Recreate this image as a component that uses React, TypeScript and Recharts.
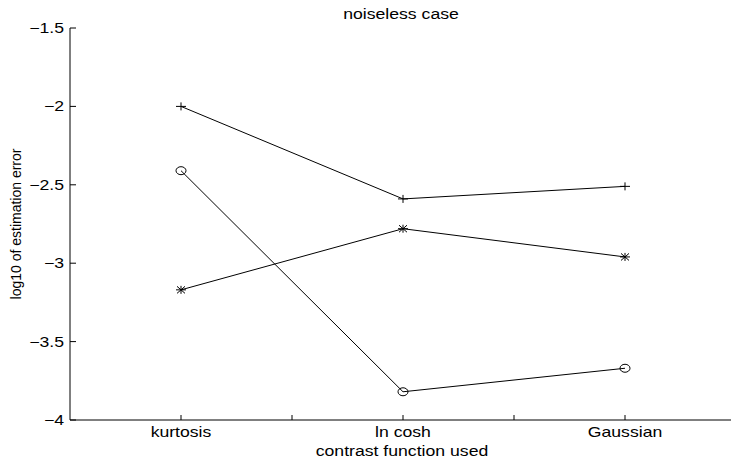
import { LineChart, Line, XAxis, YAxis } from 'recharts'

const categories = ['kurtosis', 'ln cosh', 'Gaussian']
const plusErrors = [-2.0, -2.59, -2.51]
const circleErrors = [-2.41, -3.82, -3.67]
const starErrors = [-3.17, -2.78, -2.96]
const yTicks = [-4, -3.5, -3, -2.5, -2, -1.5]
const xTicks = [1, 1.5, 2, 2.5, 3]

const data = categories.map((name, i) => ({
  x: i + 1,
  name,
  plus: plusErrors[i],
  circle: circleErrors[i],
  star: starErrors[i],
}))

const FONT = '"Liberation Sans", Arial, Helvetica, sans-serif'
const SX = 1.26 // the reference text is stretched sideways

function fmt(v: number) {
  return v < 0 ? `\u2212${Math.abs(v)}` : `${v}`
}

function YTick({ x, y, payload }: any) {
  return (
    <g>
      <line x1={x + 6} x2={x + 12} y1={y} y2={y} stroke="#000" />
      <text
        transform={`translate(${x},${y}) scale(${SX},1)`}
        textAnchor="end"
        dy="0.35em"
        fontSize={14}
        fontFamily={FONT}
        fill="#000"
      >
        {fmt(payload.value)}
      </text>
    </g>
  )
}

function XTick({ x, y, payload }: any) {
  const v = payload.value
  const label = Number.isInteger(v) ? categories[v - 1] : ''
  return (
    <g>
      <line x1={x} x2={x} y1={y} y2={y - 5} stroke="#000" />
      {label && (
        <text
          transform={`translate(${x},${y + 17}) scale(${SX},1)`}
          textAnchor="middle"
          fontSize={14}
          fontFamily={FONT}
          fill="#000"
        >
          {label}
        </text>
      )}
    </g>
  )
}

function plusDot(p: any) {
  const { cx, cy, key } = p
  return (
    <g key={key}>
      <line x1={cx - 5} x2={cx + 5} y1={cy} y2={cy} stroke="#000" />
      <line x1={cx} x2={cx} y1={cy - 4} y2={cy + 4} stroke="#000" />
    </g>
  )
}

function circleDot(p: any) {
  const { cx, cy, key } = p
  return <ellipse key={key} cx={cx} cy={cy} rx={5} ry={4} fill="none" stroke="#000" />
}

function starDot(p: any) {
  const { cx, cy, key } = p
  return (
    <g key={key} stroke="#000">
      <line x1={cx - 5} x2={cx + 5} y1={cy} y2={cy} />
      <line x1={cx} x2={cx} y1={cy - 4} y2={cy + 4} />
      <line x1={cx - 4} x2={cx + 4} y1={cy - 3.5} y2={cy + 3.5} />
      <line x1={cx - 4} x2={cx + 4} y1={cy + 3.5} y2={cy - 3.5} />
    </g>
  )
}

const textStyle: React.CSSProperties = {
  position: 'absolute',
  fontFamily: FONT,
  fontSize: 14,
  color: '#000',
  whiteSpace: 'nowrap',
  lineHeight: 1,
}

export default function App() {
  return (
    <div style={{ position: 'absolute', left: 0, top: 0, width: 731, height: 460, background: '#fff' }}>
      <LineChart width={731} height={460} data={data} margin={{ top: 28, right: -5, bottom: 10, left: 10 }}>
        <XAxis
          dataKey="x"
          type="number"
          domain={[0.5, 3.5]}
          ticks={xTicks}
          height={30}
          tickSize={0}
          tickMargin={0}
          tick={<XTick />}
          axisLine={{ stroke: '#000' }}
        />
        <YAxis
          type="number"
          domain={[-4, -1.5]}
          ticks={yTicks}
          width={60}
          tickSize={0}
          tickMargin={6}
          tick={<YTick />}
          axisLine={{ stroke: '#000' }}
        />
        <Line dataKey="plus" stroke="#000" strokeWidth={1} dot={plusDot} isAnimationActive={false} />
        <Line dataKey="circle" stroke="#000" strokeWidth={1} dot={circleDot} isAnimationActive={false} />
        <Line dataKey="star" stroke="#000" strokeWidth={1} dot={starDot} isAnimationActive={false} />
      </LineChart>
      <div style={{ ...textStyle, left: 401, top: 7, transform: `translateX(-50%) scaleX(${SX})` }}>
        noiseless case
      </div>
      <div style={{ ...textStyle, left: 402, top: 444, transform: `translateX(-50%) scaleX(${SX})` }}>
        contrast function used
      </div>
      <div
        style={{
          ...textStyle,
          left: 16,
          top: 224,
          transform: 'translate(-50%, -50%) rotate(-90deg)',
        }}
      >
        log10 of estimation error
      </div>
    </div>
  )
}
